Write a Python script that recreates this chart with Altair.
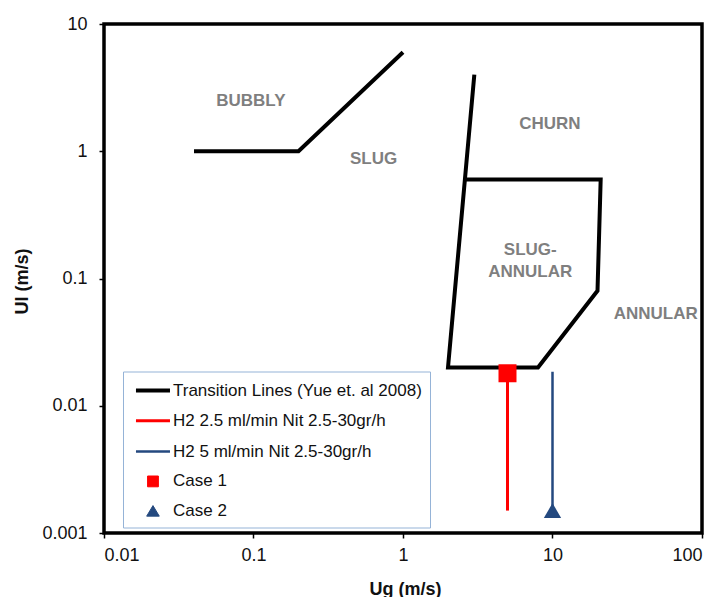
import altair as alt
import pandas as pd

# Transition lines (Yue et al. 2008)
line_seg = [0, 0, 0, 1, 1, 1, 1, 1, 1]
line_ord = [0, 1, 2, 0, 1, 2, 3, 4, 5]
line_ug = [0.04, 0.2, 1.0, 3.0, 2.0, 8.0, 20.0, 21.0, 2.6]
line_ul = [1.0, 1.0, 6.0, 4.0, 0.02, 0.02, 0.08, 0.6, 0.6]

# Experimental ranges
range_names = ["H2 2.5 ml/min Nit 2.5-30gr/h", "H2 5 ml/min Nit 2.5-30gr/h"]
range_ug = [5.0, 10.0]
range_ul_low = [0.0015, 0.0015]
range_ul_high = [0.018, 0.0185]

# Cases
case_names = ["Case 1", "Case 2"]
case_ug = [5.0, 10.0]
case_ul = [0.018, 0.0015]

# Regime labels
reg_text = ["BUBBLY", "SLUG", "CHURN", "SLUG-", "ANNULAR", "ANNULAR"]
reg_ug = [0.096, 0.635, 9.6, 7.1, 7.1, 49.0]
reg_ul = [2.47, 0.865, 1.63, 0.1675, 0.1125, 0.053]

legend_names = ["Transition Lines (Yue et. al 2008)"] + range_names + case_names
legend_colors = ["#000000", "#FF0000", "#24497F", "#FF0000", "#24497F"]
LINE_SYM = "M-0.67,0H3.11"
SQUARE_SYM = "M0.62,-0.6H1.82V0.6H0.62Z"
TRI_SYM = "M1.22,-0.62L1.92,0.55H0.52Z"
legend_shapes = [LINE_SYM, LINE_SYM, LINE_SYM, SQUARE_SYM, TRI_SYM]
legend_widths = [4, 3, 2.5, 1, 1]

FONT = "Liberation Sans"

xscale = alt.Scale(type="log", domain=[0.01, 100], nice=False)
yscale = alt.Scale(type="log", domain=[0.001, 10], nice=False)

xaxis = alt.Axis(values=[0.01, 0.1, 1, 10, 100], format="~g", title="Ug (m/s)",
                 grid=False, domain=False, tickSize=5, tickWidth=1.5, tickColor="black",
                 labelPadding=8, labelFontSize=18, labelFont=FONT, labelColor="#111",
                 titleFont=FONT, titleFontSize=18, titleFontWeight="bold", titleColor="#111",
                 titleX=301, titleY=56, titleBaseline="middle", titleAlign="center")
yaxis = alt.Axis(values=[0.001, 0.01, 0.1, 1, 10], format="~g", title="Ul (m/s)",
                 grid=False, domain=False, tickSize=5, tickWidth=1.5, tickColor="black",
                 labelPadding=12, labelFontSize=18, labelFont=FONT, labelColor="#111",
                 titleFont=FONT, titleFontSize=18, titleFontWeight="bold", titleColor="#111",
                 titleX=-82, titleY=257, titleBaseline="middle", titleAlign="center")

lines_df = pd.DataFrame({"seg": line_seg, "ord": line_ord, "ug": line_ug, "ul": line_ul})
lines = alt.Chart(lines_df).mark_line(color="black", strokeWidth=4, strokeJoin="miter").encode(
    x=alt.X("ug:Q", scale=xscale, axis=xaxis),
    y=alt.Y("ul:Q", scale=yscale, axis=yaxis),
    detail="seg:N",
    order="ord:Q",
)

range_df = pd.DataFrame({"name": range_names, "ug": range_ug, "lo": range_ul_low, "hi": range_ul_high})
red_rule = alt.Chart(range_df).transform_filter(alt.datum.name == range_names[0]).mark_rule(
    color="#FF0000", strokeWidth=3).encode(x="ug:Q", y="lo:Q", y2="hi:Q")
blue_rule = alt.Chart(range_df).transform_filter(alt.datum.name == range_names[1]).mark_rule(
    color="#24497F", strokeWidth=2.5).encode(x="ug:Q", y="lo:Q", y2="hi:Q")

case_df = pd.DataFrame({"name": case_names, "ug": case_ug, "ul": case_ul})
case1 = alt.Chart(case_df).transform_filter(alt.datum.name == "Case 1").mark_point(
    shape="square", filled=True, color="#FF0000", size=324, opacity=1).encode(x="ug:Q", y="ul:Q")
case2 = alt.Chart(case_df).transform_filter(alt.datum.name == "Case 2").mark_point(
    shape="triangle-up", filled=True, color="#24497F", size=300, opacity=1).encode(x="ug:Q", y="ul:Q")

reg_df = pd.DataFrame({"t": reg_text, "ug": reg_ug, "ul": reg_ul})
regs = alt.Chart(reg_df).mark_text(font=FONT, fontSize=17, fontWeight="bold", color="#7F7F7F",
                                   align="center", baseline="middle").encode(
    x="ug:Q", y="ul:Q", text="t:N")

leg_df = pd.DataFrame({"series": legend_names})
legend_layer = alt.Chart(leg_df).transform_filter("false").mark_point(
    filled=True, opacity=1, size=324).encode(
    shape=alt.Shape("series:N", scale=alt.Scale(domain=legend_names, range=legend_shapes), title=None),
    fill=alt.Fill("series:N", scale=alt.Scale(domain=legend_names, range=legend_colors), title=None),
    stroke=alt.Stroke("series:N", scale=alt.Scale(domain=legend_names, range=legend_colors), title=None),
    strokeWidth=alt.StrokeWidth("series:N", scale=alt.Scale(type="ordinal", domain=legend_names, range=legend_widths), title=None),
)

chart = alt.layer(lines, red_rule, blue_rule, case1, case2, regs, legend_layer).properties(
    width=598, height=509,
    autosize=alt.AutoSizeParams(type="none"),
    padding={"left": 96, "top": 16, "right": 10, "bottom": 72},
    background="white",
).configure_view(
    stroke="black", strokeWidth=3.5
).configure_legend(
    orient="none", legendX=19, legendY=347.5,
    padding=8, fillColor="white", strokeColor="#95B3D7", strokeWidth=1,
    labelFont=FONT, labelFontSize=17, labelColor="#111", labelOffset=20,
    symbolSize=324, rowPadding=11.8, labelLimit=400,
)

chart.save("out.html", embed_options={"renderer": "svg", "actions": False})
